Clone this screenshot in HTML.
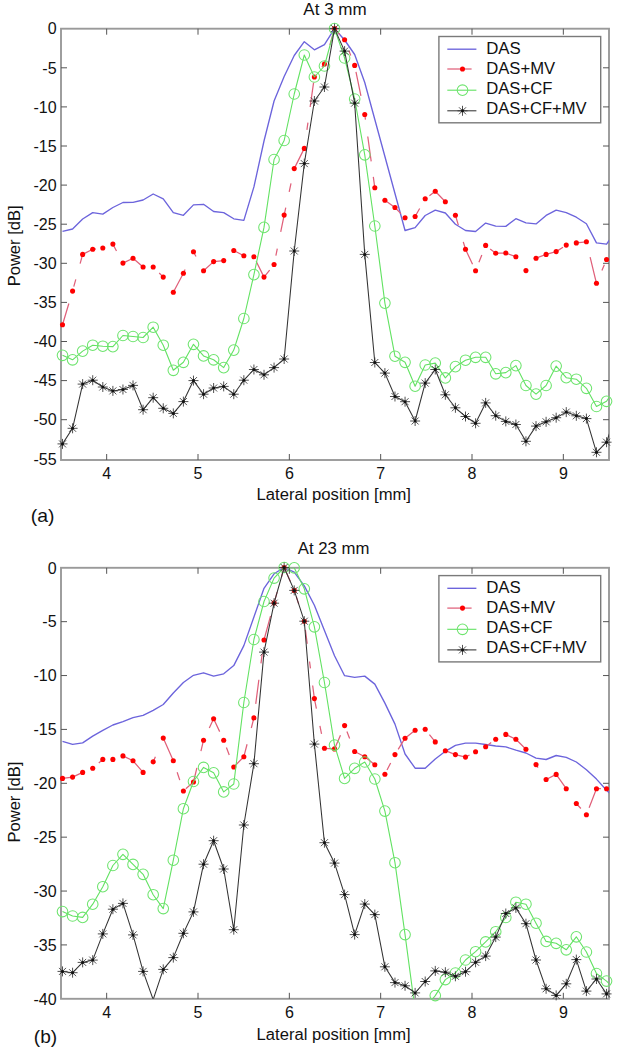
<!DOCTYPE html>
<html><head><meta charset="utf-8"><style>
html,body{margin:0;padding:0;background:#fff;}
svg{display:block;}
.l{font-family:"Liberation Sans", sans-serif;font-size:16px;fill:#111;}
.t{font-family:"Liberation Sans", sans-serif;font-size:16px;fill:#111;}
.p{font-family:"Liberation Sans", sans-serif;font-size:18.5px;fill:#111;}
</style></head><body>
<svg width="618" height="1050" viewBox="0 0 618 1050">
<defs>
<g id="ast" stroke="#333" stroke-width="1" stroke-opacity="0.85"><path d="M-5 0H5M0 -5V5M-3.5 -3.5L3.5 3.5M-3.5 3.5L3.5 -3.5"/><circle r="1.5" fill="#111" stroke="none"/></g>
</defs>
<rect width="618" height="1050" fill="#fff"/>
<clipPath id="ca"><rect x="61" y="28.7" width="548" height="431.3"/></clipPath>
<text x="303.37" y="15" class="l" style="font-size:16px" textLength="63.36" lengthAdjust="spacingAndGlyphs">At 3 mm</text>
<rect x="61" y="28.7" width="548" height="431.3" fill="none" stroke="#9a9a9a" stroke-width="1.9"/>
<polyline clip-path="url(#ca)" points="62.5,231.4 72.58,229 82.65,219 92.72,212.6 102.8,214.1 112.88,207.5 122.95,202.5 133.02,202.3 143.1,200 153.18,194 163.25,198.8 173.32,212.6 183.4,215.3 193.47,204.9 203.55,204.3 213.62,211.5 223.7,212.6 233.77,218.8 243.85,220.4 253.92,186.9 264,141 274.07,101 284.15,76.5 294.23,55.5 304.3,41.7 314.38,49.8 324.45,44.6 334.52,28.7 344.6,40 354.67,54.5 364.75,82.5 374.82,119.5 384.9,156.5 394.97,193.5 405.05,230.5 415.12,227.6 425.2,215.5 435.27,210.1 445.35,213 455.42,224.3 465.5,230.5 475.57,231.5 485.65,223.1 495.72,226.2 505.8,226.4 515.88,218.7 525.95,222.8 536.02,223.9 546.1,215.4 556.17,210.1 566.25,212.6 576.32,217.2 586.4,223.7 596.47,242.9 606.55,244.2 616.62,230" fill="none" stroke="#6c64dc" stroke-width="1.35" stroke-linejoin="round"/>
<g clip-path="url(#ca)"><path d="M62.5 324.7L68.85 303.53M73.78 286.7L75.8 279.36M80.13 263.57L82.65 254.4M82.65 254.4L92.72 249.3M92.72 249.3L95.75 248.91M112.88 244.1L116.5 250.94M122.95 263.1L133.02 258.3M133.02 258.3L143.1 267M159.22 273.06L163.25 277.1M173.32 292.2L183.4 273.2M183.4 273.2L185.11 269.56M193.47 251.8L195.99 256.52M203.55 270.7L213.62 261.6M213.62 261.6L223.7 260.6M233.77 250.5L243.85 255.7M256.14 261.19L264 277.1M264 277.1L269.64 270.04M275.89 255.61L277.3 248.69M280.72 231.9L284.15 215.1M284.15 215.1L285.76 207.66M289.19 191.85L291 183.48M294.23 168.6L304.3 148.4M306.92 129.84L307.93 122.7M310.14 106.99L313.57 82.71M321.93 67.25L324.45 64M324.45 64L325.51 60.29M329.88 44.92L334.52 28.6M334.52 28.6L339.83 34.5M348.93 50.81L350.75 55.42M355.98 71.78L360.92 95.84M364.75 114.5L365.46 119.63M367.77 136.49L371.2 161.41M373.31 176.81L374.82 187.8M384.9 200.3L394.97 207.5M394.97 207.5L400.92 213.58M415.12 216.5L419.66 208.53M429.43 195.65L435.27 191.3M435.27 191.3L445.35 201.7M455.42 215.3L458.35 225.16M463.28 241.82L465.5 249.3M465.5 249.3L472.55 264.28M478.9 262.35L481.82 255.01M490.18 248.91L495.72 253.2M495.72 253.2L505.8 253M505.8 253L515.88 256.7M536.02 258.2L546.1 254.4M546.1 254.4L556.17 251.6M556.17 251.6L563.03 247.18M576.32 242.9L586.4 241.8M590.13 257.16L596.47 283.3M601.92 270.45L604.33 264.74" fill="none" stroke="#e0607a" stroke-width="1.25" stroke-linecap="butt"/></g>
<circle cx="62.5" cy="324.7" r="2.55" fill="#f00"/>
<circle cx="72.58" cy="291.1" r="2.55" fill="#f00"/>
<circle cx="82.65" cy="254.4" r="2.55" fill="#f00"/>
<circle cx="92.72" cy="249.3" r="2.55" fill="#f00"/>
<circle cx="102.8" cy="248" r="2.55" fill="#f00"/>
<circle cx="112.88" cy="244.1" r="2.55" fill="#f00"/>
<circle cx="122.95" cy="263.1" r="2.55" fill="#f00"/>
<circle cx="133.02" cy="258.3" r="2.55" fill="#f00"/>
<circle cx="143.1" cy="267" r="2.55" fill="#f00"/>
<circle cx="153.18" cy="267" r="2.55" fill="#f00"/>
<circle cx="163.25" cy="277.1" r="2.55" fill="#f00"/>
<circle cx="173.32" cy="292.2" r="2.55" fill="#f00"/>
<circle cx="183.4" cy="273.2" r="2.55" fill="#f00"/>
<circle cx="193.47" cy="251.8" r="2.55" fill="#f00"/>
<circle cx="203.55" cy="270.7" r="2.55" fill="#f00"/>
<circle cx="213.62" cy="261.6" r="2.55" fill="#f00"/>
<circle cx="223.7" cy="260.6" r="2.55" fill="#f00"/>
<circle cx="233.77" cy="250.5" r="2.55" fill="#f00"/>
<circle cx="243.85" cy="255.7" r="2.55" fill="#f00"/>
<circle cx="253.92" cy="256.7" r="2.55" fill="#f00"/>
<circle cx="264" cy="277.1" r="2.55" fill="#f00"/>
<circle cx="274.07" cy="264.5" r="2.55" fill="#f00"/>
<circle cx="284.15" cy="215.1" r="2.55" fill="#f00"/>
<circle cx="294.23" cy="168.6" r="2.55" fill="#f00"/>
<circle cx="304.3" cy="148.4" r="2.55" fill="#f00"/>
<circle cx="314.38" cy="77" r="2.55" fill="#f00"/>
<circle cx="324.45" cy="64" r="2.55" fill="#f00"/>
<circle cx="334.52" cy="28.6" r="2.55" fill="#f00"/>
<circle cx="344.6" cy="39.8" r="2.55" fill="#f00"/>
<circle cx="354.67" cy="65.4" r="2.55" fill="#f00"/>
<circle cx="364.75" cy="114.5" r="2.55" fill="#f00"/>
<circle cx="374.82" cy="187.8" r="2.55" fill="#f00"/>
<circle cx="384.9" cy="200.3" r="2.55" fill="#f00"/>
<circle cx="394.97" cy="207.5" r="2.55" fill="#f00"/>
<circle cx="405.05" cy="217.8" r="2.55" fill="#f00"/>
<circle cx="415.12" cy="216.5" r="2.55" fill="#f00"/>
<circle cx="425.2" cy="198.8" r="2.55" fill="#f00"/>
<circle cx="435.27" cy="191.3" r="2.55" fill="#f00"/>
<circle cx="445.35" cy="201.7" r="2.55" fill="#f00"/>
<circle cx="455.42" cy="215.3" r="2.55" fill="#f00"/>
<circle cx="465.5" cy="249.3" r="2.55" fill="#f00"/>
<circle cx="475.57" cy="270.7" r="2.55" fill="#f00"/>
<circle cx="485.65" cy="245.4" r="2.55" fill="#f00"/>
<circle cx="495.72" cy="253.2" r="2.55" fill="#f00"/>
<circle cx="505.8" cy="253" r="2.55" fill="#f00"/>
<circle cx="515.88" cy="256.7" r="2.55" fill="#f00"/>
<circle cx="525.95" cy="270.6" r="2.55" fill="#f00"/>
<circle cx="536.02" cy="258.2" r="2.55" fill="#f00"/>
<circle cx="546.1" cy="254.4" r="2.55" fill="#f00"/>
<circle cx="556.17" cy="251.6" r="2.55" fill="#f00"/>
<circle cx="566.25" cy="245.1" r="2.55" fill="#f00"/>
<circle cx="576.32" cy="242.9" r="2.55" fill="#f00"/>
<circle cx="586.4" cy="241.8" r="2.55" fill="#f00"/>
<circle cx="596.47" cy="283.3" r="2.55" fill="#f00"/>
<circle cx="606.55" cy="259.5" r="2.55" fill="#f00"/>
<polyline clip-path="url(#ca)" points="62.5,355.3 72.58,359.8 82.65,351.1 92.72,345.2 102.8,346.2 112.88,346.6 122.95,335.5 133.02,336.5 143.1,337.5 153.18,327.2 163.25,345.2 173.32,370.3 183.4,362.3 193.47,344.3 203.55,355.9 213.62,359.8 223.7,367.6 233.77,350.1 243.85,318.5 253.92,274.6 264,227.4 274.07,159.5 284.15,140.5 294.23,94 304.3,55 314.38,77 324.45,66 334.52,28.6 344.6,58 354.67,99 364.75,154.8 374.82,226 384.9,303.1 394.97,356.2 405.05,362.3 415.12,386.2 425.2,365 435.27,363.1 445.35,377.9 455.42,366.6 465.5,360.2 475.57,357.3 485.65,357.3 495.72,373.8 505.8,372.6 515.88,365.6 525.95,385.5 536.02,394.1 546.1,385.5 556.17,366.1 566.25,377.7 576.32,379.2 586.4,388.3 596.47,406.5 606.55,401.3 616.62,386" fill="none" stroke="#62e262" stroke-width="1.1" stroke-linejoin="round"/>
<circle cx="62.5" cy="355.3" r="5.3" fill="none" stroke="#6ee46e" stroke-width="1.05"/>
<circle cx="72.58" cy="359.8" r="5.3" fill="none" stroke="#6ee46e" stroke-width="1.05"/>
<circle cx="82.65" cy="351.1" r="5.3" fill="none" stroke="#6ee46e" stroke-width="1.05"/>
<circle cx="92.72" cy="345.2" r="5.3" fill="none" stroke="#6ee46e" stroke-width="1.05"/>
<circle cx="102.8" cy="346.2" r="5.3" fill="none" stroke="#6ee46e" stroke-width="1.05"/>
<circle cx="112.88" cy="346.6" r="5.3" fill="none" stroke="#6ee46e" stroke-width="1.05"/>
<circle cx="122.95" cy="335.5" r="5.3" fill="none" stroke="#6ee46e" stroke-width="1.05"/>
<circle cx="133.02" cy="336.5" r="5.3" fill="none" stroke="#6ee46e" stroke-width="1.05"/>
<circle cx="143.1" cy="337.5" r="5.3" fill="none" stroke="#6ee46e" stroke-width="1.05"/>
<circle cx="153.18" cy="327.2" r="5.3" fill="none" stroke="#6ee46e" stroke-width="1.05"/>
<circle cx="163.25" cy="345.2" r="5.3" fill="none" stroke="#6ee46e" stroke-width="1.05"/>
<circle cx="173.32" cy="370.3" r="5.3" fill="none" stroke="#6ee46e" stroke-width="1.05"/>
<circle cx="183.4" cy="362.3" r="5.3" fill="none" stroke="#6ee46e" stroke-width="1.05"/>
<circle cx="193.47" cy="344.3" r="5.3" fill="none" stroke="#6ee46e" stroke-width="1.05"/>
<circle cx="203.55" cy="355.9" r="5.3" fill="none" stroke="#6ee46e" stroke-width="1.05"/>
<circle cx="213.62" cy="359.8" r="5.3" fill="none" stroke="#6ee46e" stroke-width="1.05"/>
<circle cx="223.7" cy="367.6" r="5.3" fill="none" stroke="#6ee46e" stroke-width="1.05"/>
<circle cx="233.77" cy="350.1" r="5.3" fill="none" stroke="#6ee46e" stroke-width="1.05"/>
<circle cx="243.85" cy="318.5" r="5.3" fill="none" stroke="#6ee46e" stroke-width="1.05"/>
<circle cx="253.92" cy="274.6" r="5.3" fill="none" stroke="#6ee46e" stroke-width="1.05"/>
<circle cx="264" cy="227.4" r="5.3" fill="none" stroke="#6ee46e" stroke-width="1.05"/>
<circle cx="274.07" cy="159.5" r="5.3" fill="none" stroke="#6ee46e" stroke-width="1.05"/>
<circle cx="284.15" cy="140.5" r="5.3" fill="none" stroke="#6ee46e" stroke-width="1.05"/>
<circle cx="294.23" cy="94" r="5.3" fill="none" stroke="#6ee46e" stroke-width="1.05"/>
<circle cx="304.3" cy="55" r="5.3" fill="none" stroke="#6ee46e" stroke-width="1.05"/>
<circle cx="314.38" cy="77" r="5.3" fill="none" stroke="#6ee46e" stroke-width="1.05"/>
<circle cx="324.45" cy="66" r="5.3" fill="none" stroke="#6ee46e" stroke-width="1.05"/>
<circle cx="334.52" cy="28.6" r="5.3" fill="none" stroke="#6ee46e" stroke-width="1.05"/>
<circle cx="344.6" cy="58" r="5.3" fill="none" stroke="#6ee46e" stroke-width="1.05"/>
<circle cx="354.67" cy="99" r="5.3" fill="none" stroke="#6ee46e" stroke-width="1.05"/>
<circle cx="364.75" cy="154.8" r="5.3" fill="none" stroke="#6ee46e" stroke-width="1.05"/>
<circle cx="374.82" cy="226" r="5.3" fill="none" stroke="#6ee46e" stroke-width="1.05"/>
<circle cx="384.9" cy="303.1" r="5.3" fill="none" stroke="#6ee46e" stroke-width="1.05"/>
<circle cx="394.97" cy="356.2" r="5.3" fill="none" stroke="#6ee46e" stroke-width="1.05"/>
<circle cx="405.05" cy="362.3" r="5.3" fill="none" stroke="#6ee46e" stroke-width="1.05"/>
<circle cx="415.12" cy="386.2" r="5.3" fill="none" stroke="#6ee46e" stroke-width="1.05"/>
<circle cx="425.2" cy="365" r="5.3" fill="none" stroke="#6ee46e" stroke-width="1.05"/>
<circle cx="435.27" cy="363.1" r="5.3" fill="none" stroke="#6ee46e" stroke-width="1.05"/>
<circle cx="445.35" cy="377.9" r="5.3" fill="none" stroke="#6ee46e" stroke-width="1.05"/>
<circle cx="455.42" cy="366.6" r="5.3" fill="none" stroke="#6ee46e" stroke-width="1.05"/>
<circle cx="465.5" cy="360.2" r="5.3" fill="none" stroke="#6ee46e" stroke-width="1.05"/>
<circle cx="475.57" cy="357.3" r="5.3" fill="none" stroke="#6ee46e" stroke-width="1.05"/>
<circle cx="485.65" cy="357.3" r="5.3" fill="none" stroke="#6ee46e" stroke-width="1.05"/>
<circle cx="495.72" cy="373.8" r="5.3" fill="none" stroke="#6ee46e" stroke-width="1.05"/>
<circle cx="505.8" cy="372.6" r="5.3" fill="none" stroke="#6ee46e" stroke-width="1.05"/>
<circle cx="515.88" cy="365.6" r="5.3" fill="none" stroke="#6ee46e" stroke-width="1.05"/>
<circle cx="525.95" cy="385.5" r="5.3" fill="none" stroke="#6ee46e" stroke-width="1.05"/>
<circle cx="536.02" cy="394.1" r="5.3" fill="none" stroke="#6ee46e" stroke-width="1.05"/>
<circle cx="546.1" cy="385.5" r="5.3" fill="none" stroke="#6ee46e" stroke-width="1.05"/>
<circle cx="556.17" cy="366.1" r="5.3" fill="none" stroke="#6ee46e" stroke-width="1.05"/>
<circle cx="566.25" cy="377.7" r="5.3" fill="none" stroke="#6ee46e" stroke-width="1.05"/>
<circle cx="576.32" cy="379.2" r="5.3" fill="none" stroke="#6ee46e" stroke-width="1.05"/>
<circle cx="586.4" cy="388.3" r="5.3" fill="none" stroke="#6ee46e" stroke-width="1.05"/>
<circle cx="596.47" cy="406.5" r="5.3" fill="none" stroke="#6ee46e" stroke-width="1.05"/>
<circle cx="606.55" cy="401.3" r="5.3" fill="none" stroke="#6ee46e" stroke-width="1.05"/>
<polyline clip-path="url(#ca)" points="62.5,443.9 72.58,428.3 82.65,384.1 92.72,380.2 102.8,387 112.88,390.9 122.95,389.5 133.02,385.4 143.1,409.7 153.18,397.7 163.25,408.3 173.32,413.4 183.4,401.6 193.47,380.6 203.55,394.2 213.62,388 223.7,386.4 233.77,394.2 243.85,380.2 253.92,369.5 264,374.8 274.07,367.6 284.15,359 294.23,251 304.3,163.6 314.38,101 324.45,87 334.52,28.6 344.6,51.1 354.67,103.1 364.75,254.4 374.82,362.5 384.9,373.1 394.97,396.5 405.05,401.7 415.12,421 425.2,383.1 435.27,369.5 445.35,394.8 455.42,407.8 465.5,416.5 475.57,423.3 485.65,402.9 495.72,415.7 505.8,421.4 515.88,424.5 525.95,441.3 536.02,426.1 546.1,421.8 556.17,417.7 566.25,412.1 576.32,415.8 586.4,418.6 596.47,452.3 606.55,442.2 616.62,412" fill="none" stroke="#333" stroke-width="1.05" stroke-linejoin="round"/>
<use href="#ast" x="62.5" y="443.9"/>
<use href="#ast" x="72.58" y="428.3"/>
<use href="#ast" x="82.65" y="384.1"/>
<use href="#ast" x="92.72" y="380.2"/>
<use href="#ast" x="102.8" y="387"/>
<use href="#ast" x="112.88" y="390.9"/>
<use href="#ast" x="122.95" y="389.5"/>
<use href="#ast" x="133.02" y="385.4"/>
<use href="#ast" x="143.1" y="409.7"/>
<use href="#ast" x="153.18" y="397.7"/>
<use href="#ast" x="163.25" y="408.3"/>
<use href="#ast" x="173.32" y="413.4"/>
<use href="#ast" x="183.4" y="401.6"/>
<use href="#ast" x="193.47" y="380.6"/>
<use href="#ast" x="203.55" y="394.2"/>
<use href="#ast" x="213.62" y="388"/>
<use href="#ast" x="223.7" y="386.4"/>
<use href="#ast" x="233.77" y="394.2"/>
<use href="#ast" x="243.85" y="380.2"/>
<use href="#ast" x="253.92" y="369.5"/>
<use href="#ast" x="264" y="374.8"/>
<use href="#ast" x="274.07" y="367.6"/>
<use href="#ast" x="284.15" y="359"/>
<use href="#ast" x="294.23" y="251"/>
<use href="#ast" x="304.3" y="163.6"/>
<use href="#ast" x="314.38" y="101"/>
<use href="#ast" x="324.45" y="87"/>
<use href="#ast" x="334.52" y="28.6"/>
<use href="#ast" x="344.6" y="51.1"/>
<use href="#ast" x="354.67" y="103.1"/>
<use href="#ast" x="364.75" y="254.4"/>
<use href="#ast" x="374.82" y="362.5"/>
<use href="#ast" x="384.9" y="373.1"/>
<use href="#ast" x="394.97" y="396.5"/>
<use href="#ast" x="405.05" y="401.7"/>
<use href="#ast" x="415.12" y="421"/>
<use href="#ast" x="425.2" y="383.1"/>
<use href="#ast" x="435.27" y="369.5"/>
<use href="#ast" x="445.35" y="394.8"/>
<use href="#ast" x="455.42" y="407.8"/>
<use href="#ast" x="465.5" y="416.5"/>
<use href="#ast" x="475.57" y="423.3"/>
<use href="#ast" x="485.65" y="402.9"/>
<use href="#ast" x="495.72" y="415.7"/>
<use href="#ast" x="505.8" y="421.4"/>
<use href="#ast" x="515.88" y="424.5"/>
<use href="#ast" x="525.95" y="441.3"/>
<use href="#ast" x="536.02" y="426.1"/>
<use href="#ast" x="546.1" y="421.8"/>
<use href="#ast" x="556.17" y="417.7"/>
<use href="#ast" x="566.25" y="412.1"/>
<use href="#ast" x="576.32" y="415.8"/>
<use href="#ast" x="586.4" y="418.6"/>
<use href="#ast" x="596.47" y="452.3"/>
<use href="#ast" x="606.55" y="442.2"/>
<path d="M106.67 460v-6M106.67 28.7v6M198 460v-6M198 28.7v6M289.33 460v-6M289.33 28.7v6M380.67 460v-6M380.67 28.7v6M472 460v-6M472 28.7v6M563.33 460v-6M563.33 28.7v6M61 67.8h6M609 67.8h-6M61 106.9h6M609 106.9h-6M61 146h6M609 146h-6M61 185.1h6M609 185.1h-6M61 224.2h6M609 224.2h-6M61 263.3h6M609 263.3h-6M61 302.4h6M609 302.4h-6M61 341.5h6M609 341.5h-6M61 380.6h6M609 380.6h-6M61 419.7h6M609 419.7h-6" stroke="#555" stroke-width="1.0" fill="none"/>
<text x="56.6" y="34.4" class="l" text-anchor="end">0</text>
<text x="56.6" y="73.5" class="l" text-anchor="end">-5</text>
<text x="56.6" y="112.6" class="l" text-anchor="end">-10</text>
<text x="56.6" y="151.7" class="l" text-anchor="end">-15</text>
<text x="56.6" y="190.8" class="l" text-anchor="end">-20</text>
<text x="56.6" y="229.9" class="l" text-anchor="end">-25</text>
<text x="56.6" y="269" class="l" text-anchor="end">-30</text>
<text x="56.6" y="308.1" class="l" text-anchor="end">-35</text>
<text x="56.6" y="347.2" class="l" text-anchor="end">-40</text>
<text x="56.6" y="386.3" class="l" text-anchor="end">-45</text>
<text x="56.6" y="425.4" class="l" text-anchor="end">-50</text>
<text x="56.6" y="464.5" class="l" text-anchor="end">-55</text>
<text x="106.67" y="478.8" class="l" text-anchor="middle">4</text>
<text x="198" y="478.8" class="l" text-anchor="middle">5</text>
<text x="289.33" y="478.8" class="l" text-anchor="middle">6</text>
<text x="380.67" y="478.8" class="l" text-anchor="middle">7</text>
<text x="472" y="478.8" class="l" text-anchor="middle">8</text>
<text x="563.33" y="478.8" class="l" text-anchor="middle">9</text>
<text x="256.64" y="500.4" class="l" style="font-size:16px" textLength="154.35" lengthAdjust="spacingAndGlyphs">Lateral position [mm]</text>
<text transform="translate(20.3 286.36) rotate(-90)" class="l" textLength="80.94" lengthAdjust="spacingAndGlyphs">Power [dB]</text>
<rect x="438.9" y="36.5" width="161.8" height="86.3" fill="#fff" stroke="#7a7a7a" stroke-width="1.4"/>
<line x1="447.3" x2="476.4" y1="49.2" y2="49.2" stroke="#6c64dc" stroke-width="1.35"/>
<line x1="447.3" x2="471.6" y1="69" y2="69" stroke="#e0607a" stroke-width="1.25"/>
<circle cx="462.5" cy="69" r="2.55" fill="#f00"/>
<line x1="447.3" x2="476.4" y1="90.2" y2="90.2" stroke="#62e262" stroke-width="1.1"/>
<circle cx="462.5" cy="90.2" r="5.3" fill="none" stroke="#6ee46e" stroke-width="1.05"/>
<line x1="447.3" x2="476.4" y1="110.8" y2="110.8" stroke="#333" stroke-width="1.05"/>
<use href="#ast" x="462.5" y="110.8"/>
<text x="486.22" y="54.1" class="l" style="font-size:16px" textLength="34.55" lengthAdjust="spacingAndGlyphs">DAS</text>
<text x="486.24" y="73.6" class="l" style="font-size:16px" textLength="68.84" lengthAdjust="spacingAndGlyphs">DAS+MV</text>
<text x="486.23" y="93.8" class="l" style="font-size:16px" textLength="66.13" lengthAdjust="spacingAndGlyphs">DAS+CF</text>
<text x="486.24" y="114.2" class="l" style="font-size:16px" textLength="100.43" lengthAdjust="spacingAndGlyphs">DAS+CF+MV</text>
<clipPath id="cb"><rect x="61" y="567.8" width="548" height="431"/></clipPath>
<text x="297.87" y="554.4" class="l" style="font-size:16px" textLength="71.53" lengthAdjust="spacingAndGlyphs">At 23 mm</text>
<rect x="61" y="567.8" width="548" height="431" fill="none" stroke="#9a9a9a" stroke-width="1.9"/>
<polyline clip-path="url(#cb)" points="62.5,741.4 72.58,744.3 82.65,742.9 92.72,736.1 102.8,730.3 112.88,725 122.95,721.6 133.02,717.7 143.1,715.3 153.18,710.3 163.25,704.5 173.32,693 183.4,682.5 193.47,675.3 203.55,672.8 213.62,676.1 223.7,673.8 233.77,665.6 243.85,645.6 253.92,617 264,588.3 274.07,573.8 284.15,567.5 294.23,572.1 304.3,585.9 314.38,605.3 324.45,630.5 334.52,655.7 344.6,675.7 354.67,677.4 364.75,676.1 374.82,684.1 384.9,703.1 394.97,724.1 405.05,754 415.12,768.2 425.2,768.2 435.27,759 445.35,751.3 455.42,745.4 465.5,743.1 475.57,743.1 485.65,744.5 495.72,746 505.8,746.9 515.88,750.2 525.95,753 536.02,758.1 546.1,759.5 556.17,755.5 566.25,757.3 576.32,762 586.4,769.8 596.47,779.1 606.55,790.3 616.62,800" fill="none" stroke="#6c64dc" stroke-width="1.35" stroke-linejoin="round"/>
<g clip-path="url(#cb)"><path d="M62.5 778.4L72.58 777.1M72.58 777.1L82.65 772.4M98.77 762.92L102.8 759.4M122.95 755.9L133.02 760.8M133.02 760.8L143.1 772.4M153.18 761.9L155.39 756.66M163.25 738.1L173.32 760.7M177.15 772.21L179.77 780.09M185.82 788.84L193.47 782M193.47 782L196.9 767.79M200.93 751.07L203.55 740.2M209.29 728L213.62 718.8M213.62 718.8L219.67 731.64M226.42 747.44L229.24 754.94M233.77 767L243.85 756.7M243.85 756.7L247.07 744.28M251.31 727.99L253.92 717.9M255.74 703.88L258.86 679.73M260.98 663.37L262.19 654.02M264 640L270.55 615.88M274.93 599.9L277.12 592.2M281.51 576.79L284.15 567.5M284.15 567.5L290.35 581.6M296.22 596.52L298.7 604.14M303.67 619.38L304.3 621.3M305.41 629.8L307.22 643.72M309.54 661.5L310.45 668.45M312.66 685.46L314.38 698.6M314.38 698.6L316.39 708.54M319.92 725.93L321.53 733.89M324.45 748.3L334.52 748.9M334.52 748.9L340.47 735.15M346.92 731.56L349.64 738.55M354.67 751.5L364.75 756.7M364.75 756.7L374.82 764.7M387.02 770.08L390.64 763.03M398.2 749.35L405.05 738.2M405.05 738.2L415.12 730.3M429.43 734.59L435.27 741.9M445.35 750.7L455.42 754.6M455.42 754.6L465.5 757.1M465.5 757.1L469.53 754.94M485.65 746.8L491.19 742.62M505.8 734.4L515.88 739.3M515.88 739.3L525.95 749.3M536.02 764.6L538.04 767.58M546.1 779.5L556.17 774.4M556.17 774.4L566.25 788.7M576.32 803.5L580.86 808.54M589.12 807.68L596.47 788.7M596.47 788.7L600.87 788.7" fill="none" stroke="#e0607a" stroke-width="1.25" stroke-linecap="butt"/></g>
<circle cx="62.5" cy="778.4" r="2.55" fill="#f00"/>
<circle cx="72.58" cy="777.1" r="2.55" fill="#f00"/>
<circle cx="82.65" cy="772.4" r="2.55" fill="#f00"/>
<circle cx="92.72" cy="768.2" r="2.55" fill="#f00"/>
<circle cx="102.8" cy="759.4" r="2.55" fill="#f00"/>
<circle cx="112.88" cy="759.4" r="2.55" fill="#f00"/>
<circle cx="122.95" cy="755.9" r="2.55" fill="#f00"/>
<circle cx="133.02" cy="760.8" r="2.55" fill="#f00"/>
<circle cx="143.1" cy="772.4" r="2.55" fill="#f00"/>
<circle cx="153.18" cy="761.9" r="2.55" fill="#f00"/>
<circle cx="163.25" cy="738.1" r="2.55" fill="#f00"/>
<circle cx="173.32" cy="760.7" r="2.55" fill="#f00"/>
<circle cx="183.4" cy="791" r="2.55" fill="#f00"/>
<circle cx="193.47" cy="782" r="2.55" fill="#f00"/>
<circle cx="203.55" cy="740.2" r="2.55" fill="#f00"/>
<circle cx="213.62" cy="718.8" r="2.55" fill="#f00"/>
<circle cx="223.7" cy="740.2" r="2.55" fill="#f00"/>
<circle cx="233.77" cy="767" r="2.55" fill="#f00"/>
<circle cx="243.85" cy="756.7" r="2.55" fill="#f00"/>
<circle cx="253.92" cy="717.9" r="2.55" fill="#f00"/>
<circle cx="264" cy="640" r="2.55" fill="#f00"/>
<circle cx="274.07" cy="602.9" r="2.55" fill="#f00"/>
<circle cx="284.15" cy="567.5" r="2.55" fill="#f00"/>
<circle cx="294.23" cy="590.4" r="2.55" fill="#f00"/>
<circle cx="304.3" cy="621.3" r="2.55" fill="#f00"/>
<circle cx="314.38" cy="698.6" r="2.55" fill="#f00"/>
<circle cx="324.45" cy="748.3" r="2.55" fill="#f00"/>
<circle cx="334.52" cy="748.9" r="2.55" fill="#f00"/>
<circle cx="344.6" cy="725.6" r="2.55" fill="#f00"/>
<circle cx="354.67" cy="751.5" r="2.55" fill="#f00"/>
<circle cx="364.75" cy="756.7" r="2.55" fill="#f00"/>
<circle cx="374.82" cy="764.7" r="2.55" fill="#f00"/>
<circle cx="384.9" cy="774.2" r="2.55" fill="#f00"/>
<circle cx="394.97" cy="754.6" r="2.55" fill="#f00"/>
<circle cx="405.05" cy="738.2" r="2.55" fill="#f00"/>
<circle cx="415.12" cy="730.3" r="2.55" fill="#f00"/>
<circle cx="425.2" cy="729.3" r="2.55" fill="#f00"/>
<circle cx="435.27" cy="741.9" r="2.55" fill="#f00"/>
<circle cx="445.35" cy="750.7" r="2.55" fill="#f00"/>
<circle cx="455.42" cy="754.6" r="2.55" fill="#f00"/>
<circle cx="465.5" cy="757.1" r="2.55" fill="#f00"/>
<circle cx="475.57" cy="751.7" r="2.55" fill="#f00"/>
<circle cx="485.65" cy="746.8" r="2.55" fill="#f00"/>
<circle cx="495.72" cy="739.2" r="2.55" fill="#f00"/>
<circle cx="505.8" cy="734.4" r="2.55" fill="#f00"/>
<circle cx="515.88" cy="739.3" r="2.55" fill="#f00"/>
<circle cx="525.95" cy="749.3" r="2.55" fill="#f00"/>
<circle cx="536.02" cy="764.6" r="2.55" fill="#f00"/>
<circle cx="546.1" cy="779.5" r="2.55" fill="#f00"/>
<circle cx="556.17" cy="774.4" r="2.55" fill="#f00"/>
<circle cx="566.25" cy="788.7" r="2.55" fill="#f00"/>
<circle cx="576.32" cy="803.5" r="2.55" fill="#f00"/>
<circle cx="586.4" cy="814.7" r="2.55" fill="#f00"/>
<circle cx="596.47" cy="788.7" r="2.55" fill="#f00"/>
<circle cx="606.55" cy="788.7" r="2.55" fill="#f00"/>
<polyline clip-path="url(#cb)" points="62.5,911.6 72.58,916 82.65,917.4 92.72,904.2 102.8,886.7 112.88,865.5 122.95,854.3 133.02,864.4 143.1,874.3 153.18,894.7 163.25,908.6 173.32,860.2 183.4,808.7 193.47,781.5 203.55,767.4 213.62,772.8 223.7,791.9 233.77,784 243.85,702.5 253.92,639.5 264,601.5 274.07,578.1 284.15,567.5 294.23,567.8 304.3,588.8 314.38,626.8 324.45,682.5 334.52,745.1 344.6,778.4 354.67,768.3 364.75,762 374.82,779 384.9,811.1 394.97,862.7 405.05,934.6 415.12,1010 425.2,1008 435.27,995.6 445.35,979.6 455.42,973 465.5,960 475.57,951.7 485.65,941.9 495.72,931.7 505.8,917.5 515.88,902.2 525.95,904.2 536.02,923.2 546.1,941.4 556.17,943.3 566.25,949.8 576.32,936.8 586.4,952 596.47,973.5 606.55,981.1 616.62,991" fill="none" stroke="#62e262" stroke-width="1.1" stroke-linejoin="round"/>
<circle cx="62.5" cy="911.6" r="5.3" fill="none" stroke="#6ee46e" stroke-width="1.05"/>
<circle cx="72.58" cy="916" r="5.3" fill="none" stroke="#6ee46e" stroke-width="1.05"/>
<circle cx="82.65" cy="917.4" r="5.3" fill="none" stroke="#6ee46e" stroke-width="1.05"/>
<circle cx="92.72" cy="904.2" r="5.3" fill="none" stroke="#6ee46e" stroke-width="1.05"/>
<circle cx="102.8" cy="886.7" r="5.3" fill="none" stroke="#6ee46e" stroke-width="1.05"/>
<circle cx="112.88" cy="865.5" r="5.3" fill="none" stroke="#6ee46e" stroke-width="1.05"/>
<circle cx="122.95" cy="854.3" r="5.3" fill="none" stroke="#6ee46e" stroke-width="1.05"/>
<circle cx="133.02" cy="864.4" r="5.3" fill="none" stroke="#6ee46e" stroke-width="1.05"/>
<circle cx="143.1" cy="874.3" r="5.3" fill="none" stroke="#6ee46e" stroke-width="1.05"/>
<circle cx="153.18" cy="894.7" r="5.3" fill="none" stroke="#6ee46e" stroke-width="1.05"/>
<circle cx="163.25" cy="908.6" r="5.3" fill="none" stroke="#6ee46e" stroke-width="1.05"/>
<circle cx="173.32" cy="860.2" r="5.3" fill="none" stroke="#6ee46e" stroke-width="1.05"/>
<circle cx="183.4" cy="808.7" r="5.3" fill="none" stroke="#6ee46e" stroke-width="1.05"/>
<circle cx="193.47" cy="781.5" r="5.3" fill="none" stroke="#6ee46e" stroke-width="1.05"/>
<circle cx="203.55" cy="767.4" r="5.3" fill="none" stroke="#6ee46e" stroke-width="1.05"/>
<circle cx="213.62" cy="772.8" r="5.3" fill="none" stroke="#6ee46e" stroke-width="1.05"/>
<circle cx="223.7" cy="791.9" r="5.3" fill="none" stroke="#6ee46e" stroke-width="1.05"/>
<circle cx="233.77" cy="784" r="5.3" fill="none" stroke="#6ee46e" stroke-width="1.05"/>
<circle cx="243.85" cy="702.5" r="5.3" fill="none" stroke="#6ee46e" stroke-width="1.05"/>
<circle cx="253.92" cy="639.5" r="5.3" fill="none" stroke="#6ee46e" stroke-width="1.05"/>
<circle cx="264" cy="601.5" r="5.3" fill="none" stroke="#6ee46e" stroke-width="1.05"/>
<circle cx="274.07" cy="578.1" r="5.3" fill="none" stroke="#6ee46e" stroke-width="1.05"/>
<circle cx="284.15" cy="567.5" r="5.3" fill="none" stroke="#6ee46e" stroke-width="1.05"/>
<circle cx="294.23" cy="567.8" r="5.3" fill="none" stroke="#6ee46e" stroke-width="1.05"/>
<circle cx="304.3" cy="588.8" r="5.3" fill="none" stroke="#6ee46e" stroke-width="1.05"/>
<circle cx="314.38" cy="626.8" r="5.3" fill="none" stroke="#6ee46e" stroke-width="1.05"/>
<circle cx="324.45" cy="682.5" r="5.3" fill="none" stroke="#6ee46e" stroke-width="1.05"/>
<circle cx="334.52" cy="745.1" r="5.3" fill="none" stroke="#6ee46e" stroke-width="1.05"/>
<circle cx="344.6" cy="778.4" r="5.3" fill="none" stroke="#6ee46e" stroke-width="1.05"/>
<circle cx="354.67" cy="768.3" r="5.3" fill="none" stroke="#6ee46e" stroke-width="1.05"/>
<circle cx="364.75" cy="762" r="5.3" fill="none" stroke="#6ee46e" stroke-width="1.05"/>
<circle cx="374.82" cy="779" r="5.3" fill="none" stroke="#6ee46e" stroke-width="1.05"/>
<circle cx="384.9" cy="811.1" r="5.3" fill="none" stroke="#6ee46e" stroke-width="1.05"/>
<circle cx="394.97" cy="862.7" r="5.3" fill="none" stroke="#6ee46e" stroke-width="1.05"/>
<circle cx="405.05" cy="934.6" r="5.3" fill="none" stroke="#6ee46e" stroke-width="1.05"/>
<circle cx="435.27" cy="995.6" r="5.3" fill="none" stroke="#6ee46e" stroke-width="1.05"/>
<circle cx="445.35" cy="979.6" r="5.3" fill="none" stroke="#6ee46e" stroke-width="1.05"/>
<circle cx="455.42" cy="973" r="5.3" fill="none" stroke="#6ee46e" stroke-width="1.05"/>
<circle cx="465.5" cy="960" r="5.3" fill="none" stroke="#6ee46e" stroke-width="1.05"/>
<circle cx="475.57" cy="951.7" r="5.3" fill="none" stroke="#6ee46e" stroke-width="1.05"/>
<circle cx="485.65" cy="941.9" r="5.3" fill="none" stroke="#6ee46e" stroke-width="1.05"/>
<circle cx="495.72" cy="931.7" r="5.3" fill="none" stroke="#6ee46e" stroke-width="1.05"/>
<circle cx="505.8" cy="917.5" r="5.3" fill="none" stroke="#6ee46e" stroke-width="1.05"/>
<circle cx="515.88" cy="902.2" r="5.3" fill="none" stroke="#6ee46e" stroke-width="1.05"/>
<circle cx="525.95" cy="904.2" r="5.3" fill="none" stroke="#6ee46e" stroke-width="1.05"/>
<circle cx="536.02" cy="923.2" r="5.3" fill="none" stroke="#6ee46e" stroke-width="1.05"/>
<circle cx="546.1" cy="941.4" r="5.3" fill="none" stroke="#6ee46e" stroke-width="1.05"/>
<circle cx="556.17" cy="943.3" r="5.3" fill="none" stroke="#6ee46e" stroke-width="1.05"/>
<circle cx="566.25" cy="949.8" r="5.3" fill="none" stroke="#6ee46e" stroke-width="1.05"/>
<circle cx="576.32" cy="936.8" r="5.3" fill="none" stroke="#6ee46e" stroke-width="1.05"/>
<circle cx="586.4" cy="952" r="5.3" fill="none" stroke="#6ee46e" stroke-width="1.05"/>
<circle cx="596.47" cy="973.5" r="5.3" fill="none" stroke="#6ee46e" stroke-width="1.05"/>
<circle cx="606.55" cy="981.1" r="5.3" fill="none" stroke="#6ee46e" stroke-width="1.05"/>
<polyline clip-path="url(#cb)" points="62.5,971.4 72.58,972.7 82.65,962.4 92.72,960.1 102.8,933.9 112.88,909.2 122.95,903.4 133.02,934.9 143.1,971.4 153.18,999.6 163.25,969.4 173.32,957.6 183.4,933.3 193.47,911.9 203.55,864.2 213.62,840.7 223.7,869 233.77,929.7 243.85,825 253.92,763.7 264,652.1 274.07,603.2 284.15,567.5 294.23,590.4 304.3,621.2 314.38,744.1 324.45,842.7 334.52,863.1 344.6,894.6 354.67,934.6 364.75,904.1 374.82,914.6 384.9,966.8 394.97,982.6 405.05,985.8 415.12,992.9 425.2,981.5 435.27,970.9 445.35,972.2 455.42,976.3 465.5,971.7 475.57,962.3 485.65,956.1 495.72,937.1 505.8,913.5 515.88,907.9 525.95,923.7 536.02,960 546.1,988.8 556.17,995.4 566.25,983.8 576.32,959.6 586.4,991.1 596.47,979 606.55,993.9 616.62,981" fill="none" stroke="#333" stroke-width="1.05" stroke-linejoin="round"/>
<use href="#ast" x="62.5" y="971.4"/>
<use href="#ast" x="72.58" y="972.7"/>
<use href="#ast" x="82.65" y="962.4"/>
<use href="#ast" x="92.72" y="960.1"/>
<use href="#ast" x="102.8" y="933.9"/>
<use href="#ast" x="112.88" y="909.2"/>
<use href="#ast" x="122.95" y="903.4"/>
<use href="#ast" x="133.02" y="934.9"/>
<use href="#ast" x="143.1" y="971.4"/>
<use href="#ast" x="163.25" y="969.4"/>
<use href="#ast" x="173.32" y="957.6"/>
<use href="#ast" x="183.4" y="933.3"/>
<use href="#ast" x="193.47" y="911.9"/>
<use href="#ast" x="203.55" y="864.2"/>
<use href="#ast" x="213.62" y="840.7"/>
<use href="#ast" x="223.7" y="869"/>
<use href="#ast" x="233.77" y="929.7"/>
<use href="#ast" x="243.85" y="825"/>
<use href="#ast" x="253.92" y="763.7"/>
<use href="#ast" x="264" y="652.1"/>
<use href="#ast" x="274.07" y="603.2"/>
<use href="#ast" x="284.15" y="567.5"/>
<use href="#ast" x="294.23" y="590.4"/>
<use href="#ast" x="304.3" y="621.2"/>
<use href="#ast" x="314.38" y="744.1"/>
<use href="#ast" x="324.45" y="842.7"/>
<use href="#ast" x="334.52" y="863.1"/>
<use href="#ast" x="344.6" y="894.6"/>
<use href="#ast" x="354.67" y="934.6"/>
<use href="#ast" x="364.75" y="904.1"/>
<use href="#ast" x="374.82" y="914.6"/>
<use href="#ast" x="384.9" y="966.8"/>
<use href="#ast" x="394.97" y="982.6"/>
<use href="#ast" x="405.05" y="985.8"/>
<use href="#ast" x="415.12" y="992.9"/>
<use href="#ast" x="425.2" y="981.5"/>
<use href="#ast" x="435.27" y="970.9"/>
<use href="#ast" x="445.35" y="972.2"/>
<use href="#ast" x="455.42" y="976.3"/>
<use href="#ast" x="465.5" y="971.7"/>
<use href="#ast" x="475.57" y="962.3"/>
<use href="#ast" x="485.65" y="956.1"/>
<use href="#ast" x="495.72" y="937.1"/>
<use href="#ast" x="505.8" y="913.5"/>
<use href="#ast" x="515.88" y="907.9"/>
<use href="#ast" x="525.95" y="923.7"/>
<use href="#ast" x="536.02" y="960"/>
<use href="#ast" x="546.1" y="988.8"/>
<use href="#ast" x="556.17" y="995.4"/>
<use href="#ast" x="566.25" y="983.8"/>
<use href="#ast" x="576.32" y="959.6"/>
<use href="#ast" x="586.4" y="991.1"/>
<use href="#ast" x="596.47" y="979"/>
<use href="#ast" x="606.55" y="993.9"/>
<path d="M106.67 998.8v-6M106.67 567.8v6M198 998.8v-6M198 567.8v6M289.33 998.8v-6M289.33 567.8v6M380.67 998.8v-6M380.67 567.8v6M472 998.8v-6M472 567.8v6M563.33 998.8v-6M563.33 567.8v6M61 621.67h6M609 621.67h-6M61 675.55h6M609 675.55h-6M61 729.42h6M609 729.42h-6M61 783.3h6M609 783.3h-6M61 837.17h6M609 837.17h-6M61 891.05h6M609 891.05h-6M61 944.92h6M609 944.92h-6" stroke="#555" stroke-width="1.0" fill="none"/>
<text x="56.6" y="573.5" class="l" text-anchor="end">0</text>
<text x="56.6" y="627.38" class="l" text-anchor="end">-5</text>
<text x="56.6" y="681.25" class="l" text-anchor="end">-10</text>
<text x="56.6" y="735.12" class="l" text-anchor="end">-15</text>
<text x="56.6" y="789" class="l" text-anchor="end">-20</text>
<text x="56.6" y="842.88" class="l" text-anchor="end">-25</text>
<text x="56.6" y="896.75" class="l" text-anchor="end">-30</text>
<text x="56.6" y="950.62" class="l" text-anchor="end">-35</text>
<text x="56.6" y="1004.5" class="l" text-anchor="end">-40</text>
<text x="106.67" y="1017.6" class="l" text-anchor="middle">4</text>
<text x="198" y="1017.6" class="l" text-anchor="middle">5</text>
<text x="289.33" y="1017.6" class="l" text-anchor="middle">6</text>
<text x="380.67" y="1017.6" class="l" text-anchor="middle">7</text>
<text x="472" y="1017.6" class="l" text-anchor="middle">8</text>
<text x="563.33" y="1017.6" class="l" text-anchor="middle">9</text>
<text x="256.64" y="1040" class="l" style="font-size:16px" textLength="153.94" lengthAdjust="spacingAndGlyphs">Lateral position [mm]</text>
<text transform="translate(20.3 842.56) rotate(-90)" class="l" textLength="80.94" lengthAdjust="spacingAndGlyphs">Power [dB]</text>
<rect x="438.9" y="575.6" width="161.8" height="86.3" fill="#fff" stroke="#7a7a7a" stroke-width="1.4"/>
<line x1="447.3" x2="476.4" y1="588.3" y2="588.3" stroke="#6c64dc" stroke-width="1.35"/>
<line x1="447.3" x2="471.6" y1="608.1" y2="608.1" stroke="#e0607a" stroke-width="1.25"/>
<circle cx="462.5" cy="608.1" r="2.55" fill="#f00"/>
<line x1="447.3" x2="476.4" y1="629.3" y2="629.3" stroke="#62e262" stroke-width="1.1"/>
<circle cx="462.5" cy="629.3" r="5.3" fill="none" stroke="#6ee46e" stroke-width="1.05"/>
<line x1="447.3" x2="476.4" y1="649.9" y2="649.9" stroke="#333" stroke-width="1.05"/>
<use href="#ast" x="462.5" y="649.9"/>
<text x="486.22" y="593.2" class="l" style="font-size:16px" textLength="34.55" lengthAdjust="spacingAndGlyphs">DAS</text>
<text x="486.24" y="612.7" class="l" style="font-size:16px" textLength="68.84" lengthAdjust="spacingAndGlyphs">DAS+MV</text>
<text x="486.23" y="632.9" class="l" style="font-size:16px" textLength="66.13" lengthAdjust="spacingAndGlyphs">DAS+CF</text>
<text x="486.24" y="653.3" class="l" style="font-size:16px" textLength="100.43" lengthAdjust="spacingAndGlyphs">DAS+CF+MV</text>
<text x="30.8" y="521.8" class="l" style="font-size:19px" textLength="23.71" lengthAdjust="spacingAndGlyphs">(a)</text>
<text x="33.81" y="1043" class="l" style="font-size:19px" textLength="23.37" lengthAdjust="spacingAndGlyphs">(b)</text>
</svg>
</body></html>
